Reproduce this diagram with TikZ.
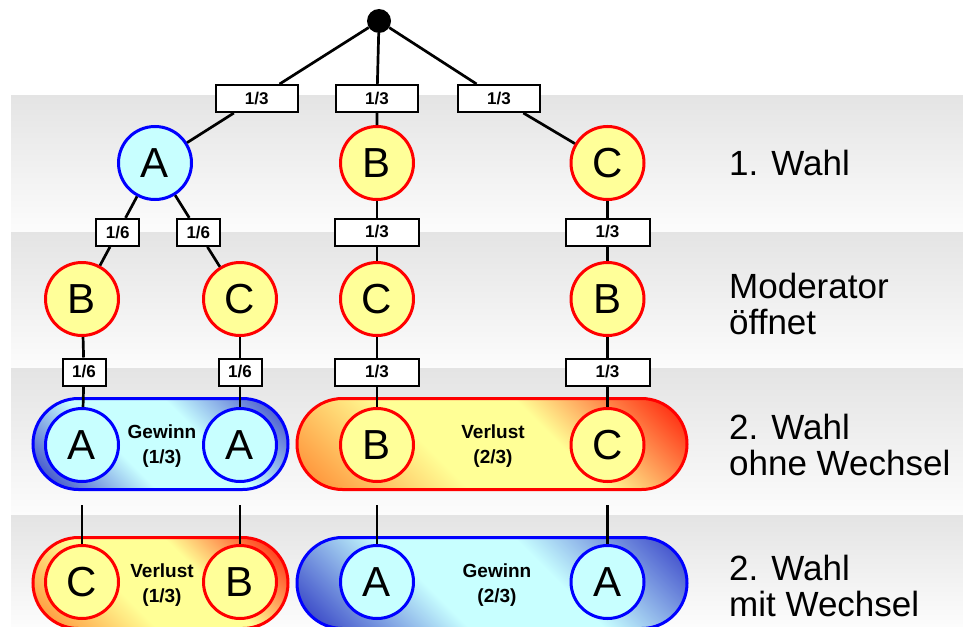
\documentclass[tikz,border=0pt]{standalone}
\usepackage{fontspec}
\setmainfont{Liberation Sans}
\usetikzlibrary{shapes.misc,calc}
\definecolor{wLight}{RGB}{200,255,255}
\definecolor{wDark}{RGB}{60,75,200}
\definecolor{wDarkB}{RGB}{70,85,205}
\definecolor{lLight}{RGB}{255,255,150}
\definecolor{lOrange}{RGB}{255,150,60}
\definecolor{lRed}{RGB}{255,50,20}
\definecolor{cyanFill}{RGB}{200,255,255}
\definecolor{yelFill}{RGB}{255,255,153}
\definecolor{bandTop}{RGB}{228,228,228}
\definecolor{bandBot}{RGB}{252,252,252}
\pgfdeclareverticalshading{winshade}{100bp}{color(0bp)=(wDark); color(18bp)=(wDark); color(40bp)=(wLight); color(60bp)=(wLight); color(82bp)=(wDarkB); color(100bp)=(wDarkB)}
\pgfdeclareverticalshading{loseshade}{100bp}{color(0bp)=(lOrange); color(18bp)=(lOrange); color(40bp)=(lLight); color(60bp)=(lLight); color(82bp)=(lRed); color(100bp)=(lRed)}
\begin{document}
\begin{tikzpicture}[x=1pt,y=-1pt,
  conn/.style={line width=2.7pt,black},
  probbox/.style={draw=black,line width=2pt,fill=white,minimum height=27pt,inner sep=0pt,font=\bfseries\fontsize{17}{19}\selectfont},
  wide/.style={probbox,minimum width=84pt},
  narrow/.style={probbox,minimum width=43pt},
  circ/.style={circle,minimum size=73pt,inner sep=0pt,line width=3pt,font=\fontsize{42}{48}\selectfont},
  wincirc/.style={circ,draw=blue,fill=cyanFill},
  losecirc/.style={circ,draw=red,fill=yelFill},
  pill/.style={rounded rectangle,minimum height=91pt,inner sep=0pt,line width=3pt,shading angle=-45},
  winpill/.style={pill,draw=blue,shading=winshade},
  losepill/.style={pill,draw=red,shading=loseshade},
  pilltext/.style={align=center,font=\bfseries\fontsize{19}{25}\selectfont,inner sep=0pt},
  rowlabel/.style={anchor=west,align=left,inner sep=0pt,font=\fontsize{35}{36}\selectfont}
]
\clip (0,0) rectangle (963,626);
\fill[white] (0,0) rectangle (963,626);
% bands
\shade[top color=bandTop,bottom color=bandBot] (11,95) rectangle (963,232);
\shade[top color=bandTop,bottom color=bandBot] (11,232) rectangle (963,368);
\shade[top color=bandTop,bottom color=bandBot] (11,368) rectangle (963,515);
\shade[top color=bandTop,bottom color=bandBot] (11,515) rectangle (963,626);

% pills
\node[winpill,minimum width=255pt] (pillL3) at (160.5,444) {};
\node[losepill,minimum width=390pt] (pillR3) at (492,444) {};
\node[losepill,minimum width=255pt] (pillL4) at (160.5,583) {};
\node[winpill,minimum width=390pt] (pillR4) at (492,583) {};

% root
\node[circle,fill=black,minimum size=24pt,inner sep=0pt] (root) at (379,21) {};

% row 1
\node[wincirc] (A1) at (155,163) {A};
\node[losecirc] (B1) at (377,163) {B};
\node[losecirc] (C1) at (607.5,163) {C};
\node[wide,minimum width=82pt] (p1) at ($(root)!0.546!(A1)$) {1/3};
\node[wide,minimum width=82pt] (p2) at (377,98.5) {1/3};
\node[wide,minimum width=82pt] (p3) at (499,98.5) {1/3};

% row 2
\node[losecirc] (B2) at (82,299) {B};
\node[losecirc] (C2) at (240,299) {C};
\node[losecirc] (C3) at (377,299) {C};
\node[losecirc] (B3) at (607.5,299) {B};
\node[narrow] (q1) at ($(A1)!0.51!(B2)$) {1/6};
\node[narrow] (q2) at ($(A1)!0.51!(C2)$) {1/6};
\node[wide] (q3) at (377,232) {1/3};
\node[wide] (q4) at (607.5,232) {1/3};

% row 3
\node[narrow] (r1) at (84,372) {1/6};
\node[narrow] (r2) at (240,372) {1/6};
\node[wide] (r3) at (377,372) {1/3};
\node[wide] (r4) at (607.5,372) {1/3};
\node[wincirc] (A3a) at (82,445) {A};
\node[wincirc] (A3b) at (240,445) {A};
\node[losecirc] (B4) at (377,445) {B};
\node[losecirc] (C4) at (607.5,445) {C};
\node[pilltext] (t1) at (162,446) {Gewinn\\(1/3)};
\node[pilltext] (t2) at (493,446) {Verlust\\(2/3)};

% row 4
\node[losecirc] (C5) at (82,582) {C};
\node[losecirc] (B5) at (240,582) {B};
\node[wincirc] (A5a) at (377,582) {A};
\node[wincirc] (A5b) at (607.5,582) {A};
\node[pilltext] (t3) at (162,585) {Verlust\\(1/3)};
\node[pilltext] (t4) at (497,585) {Gewinn\\(2/3)};
\coordinate (s1) at (82,505);
\coordinate (s2) at (240,505);
\coordinate (s3) at (377,505);
\coordinate (s4) at (607.5,505);

% connectors
\draw[conn] (root) -- (p1) -- (A1);
\draw[conn] (root) -- (p2) -- (B1);
\draw[conn] (root) -- (p3) -- (C1);
\draw[conn] (A1) -- (q1) -- (B2);
\draw[conn] (A1) -- (q2) -- (C2);
\draw[conn] (B1) -- (q3) -- (C3);
\draw[conn] (C1) -- (q4) -- (B3);
\draw[conn] (B2) -- (r1) -- (A3a);
\draw[conn] (C2) -- (r2) -- (A3b);
\draw[conn] (C3) -- (r3) -- (B4);
\draw[conn] (B3) -- (r4) -- (C4);
\draw[conn] (s1) -- (C5);
\draw[conn] (s2) -- (B5);
\draw[conn] (s3) -- (A5a);
\draw[conn] (s4) -- (A5b);

% labels
\node[rowlabel] (l1) at (729,163) {1. Wahl};
\node[rowlabel] (l2) at (729,304) {Moderator\\öffnet};
\node[rowlabel] (l3) at (729,445) {2. Wahl\\ohne Wechsel};
\node[rowlabel] (l4) at (729,586) {2. Wahl\\mit Wechsel};
\end{tikzpicture}
\end{document}
